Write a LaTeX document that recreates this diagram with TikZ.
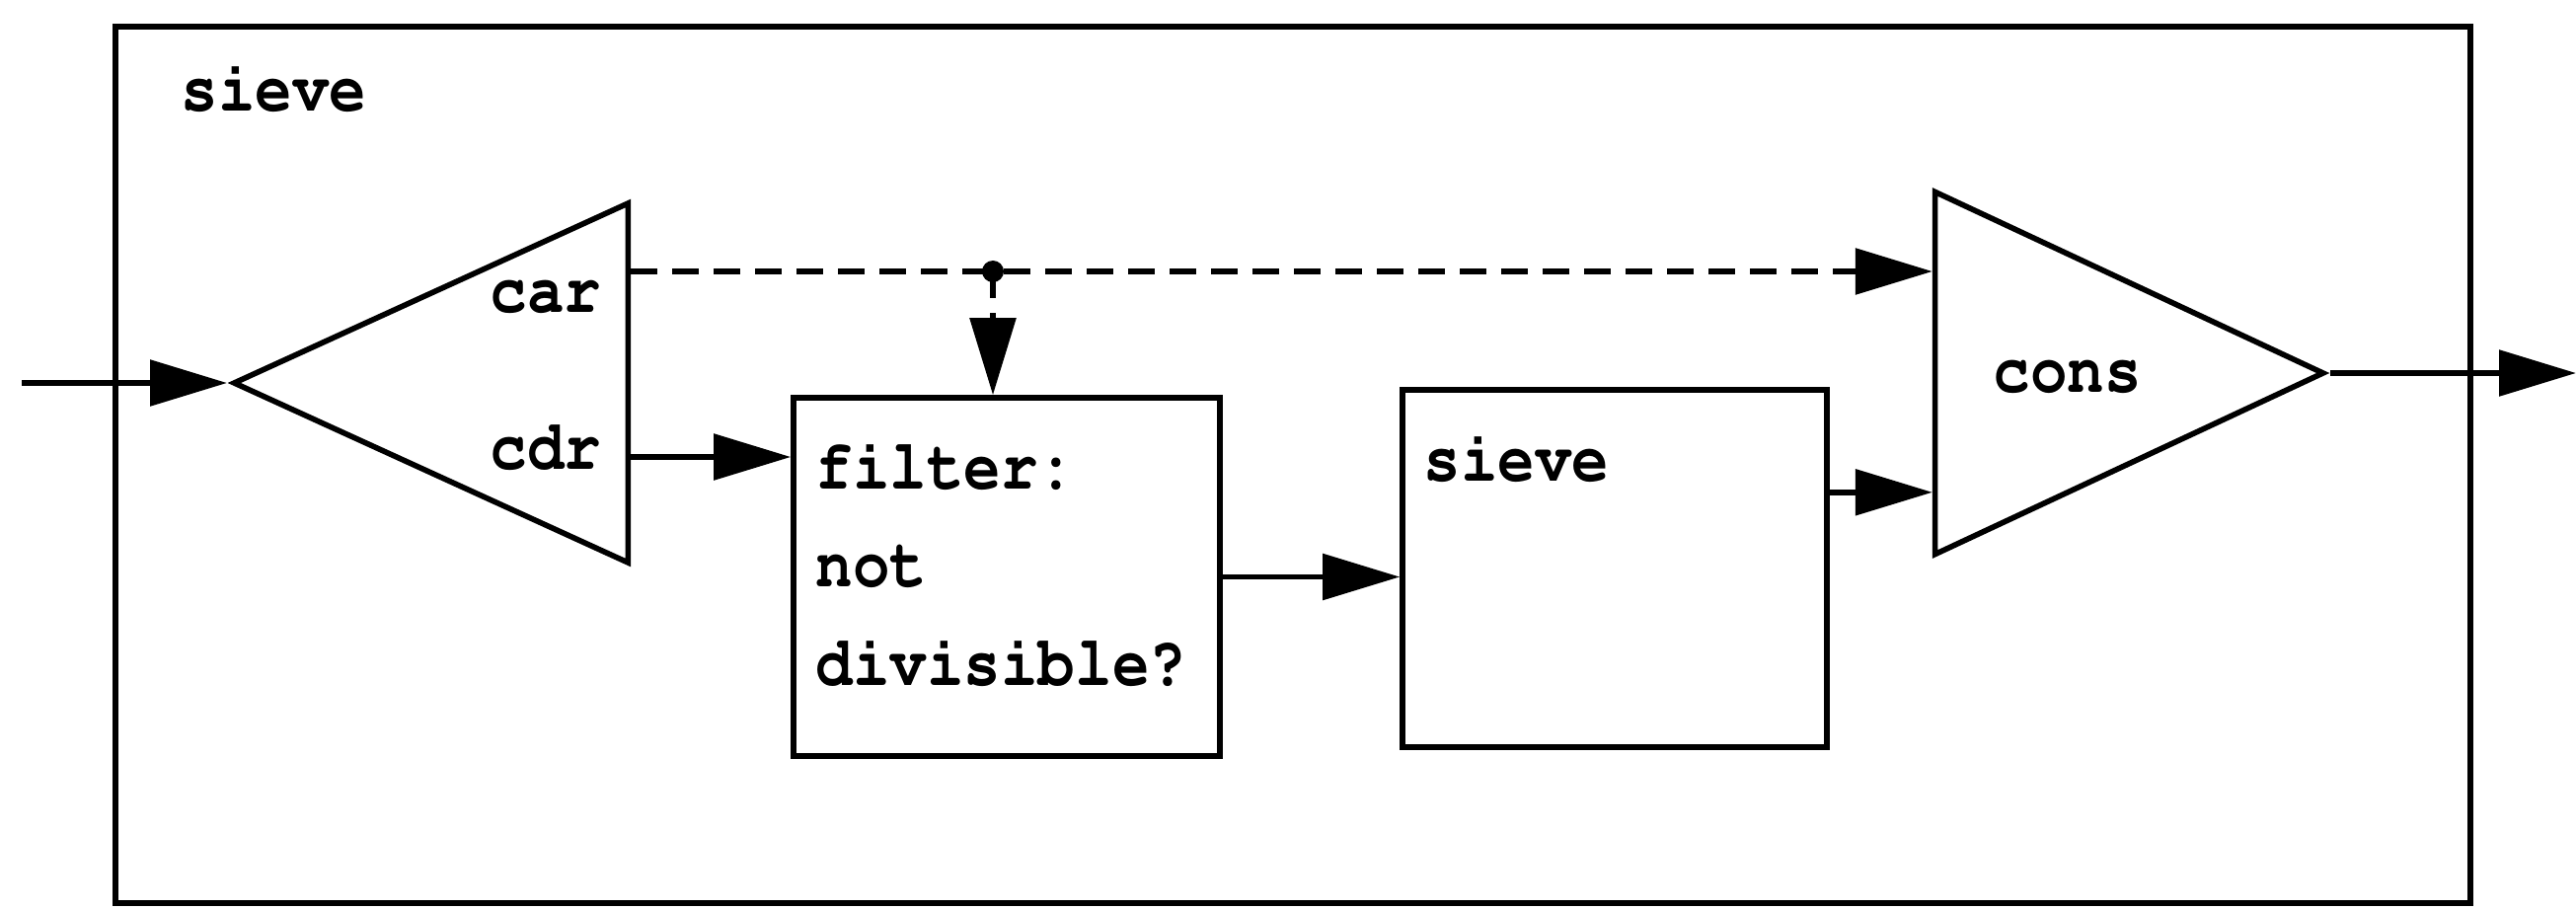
\documentclass[tikz,border=0pt]{standalone}
\usepackage[T1]{fontenc}
\usepackage{graphicx}
\usetikzlibrary{arrows.meta,shapes.geometric,calc}
\newcommand{\tallt}[1]{\scalebox{1}[1.15]{#1}}
\tikzset{
  blk/.style={draw,line width=1.6pt,inner sep=0pt},
  tri/.style={draw,line width=1.6pt,isosceles triangle,isosceles triangle stretches,inner sep=0pt},
  lbl/.style={inner sep=0pt,anchor=base west,font=\fontfamily{pcr}\fontseries{b}\fontsize{17.8}{24}\selectfont},
  flow/.style={line width=1.6pt,-{Triangle[length=7.8mm,width=4.6mm]}},
  dashpat/.style={dash pattern=on 0.27cm off 0.15cm},
}
\begin{document}
\begin{tikzpicture}
  \useasboundingbox (0,0) rectangle (26.10,-9.21);
  % outer sieve
  \node[blk,minimum width=23.86cm,minimum height=8.88cm] (outer) at (13.10,-4.71) {};
  \node[lbl] (outerlbl) at (1.83,-1.13) {\tallt{sieve}};
  % car / cdr split
  \node[tri,shape border rotate=180,minimum height=3.99cm,minimum width=3.64cm,anchor=apex] (split) at (2.30,-3.88) {};
  \node[lbl] (carlbl) at (4.96,-3.16) {\tallt{car}};
  \node[lbl] (cdrlbl) at (4.96,-4.75) {\tallt{cdr}};
  \coordinate (carport) at ($(split.lower side)+(0,1.13)$);
  \coordinate (cdrport) at ($(split.lower side)+(0,-0.75)$);
  % filter
  \node[blk,minimum width=4.32cm,minimum height=3.63cm] (filter) at (10.20,-5.845) {};
  \node[lbl] (filtera) at (8.26,-4.95) {\tallt{filter:}};
  \node[lbl] (filterb) at (8.26,-5.94) {\tallt{not}};
  \node[lbl] (filterc) at (8.26,-6.94) {\tallt{divisible?}};
  % inner sieve
  \node[blk,minimum width=4.30cm,minimum height=3.62cm] (sieve) at (16.36,-5.76) {};
  \node[lbl] (sievelbl) at (14.42,-4.87) {\tallt{sieve}};
  % cons
  \node[tri,minimum height=3.93cm,minimum width=3.67cm,anchor=apex] (cons) at (23.61,-3.78) {};
  \node[lbl] (conslbl) at (20.19,-3.97) {\tallt{cons}};
  % connectors
  \coordinate (in) at (0.22,-3.88);
  \coordinate (out) at (26.10,-3.78);
  \coordinate (dot) at (10.06,-2.75);
  \coordinate (sieveout) at ($(sieve.north east)!0.29!(sieve.south east)$);
  \draw[flow] (in) -- (split.apex);
  \draw[flow,dashpat] (carport) -- (carport -| cons.lower side);
  \fill (dot) circle (0.11);
  \draw[flow,dashpat] (dot) -- (dot |- filter.north);
  \draw[flow] (cdrport) -- (cdrport -| filter.west);
  \draw[flow] (filter.east) -- (filter.east -| sieve.west);
  \draw[flow] (sieveout) -- (sieveout -| cons.lower side);
  \draw[flow] (cons.apex) -- (out);
\end{tikzpicture}
\end{document}
